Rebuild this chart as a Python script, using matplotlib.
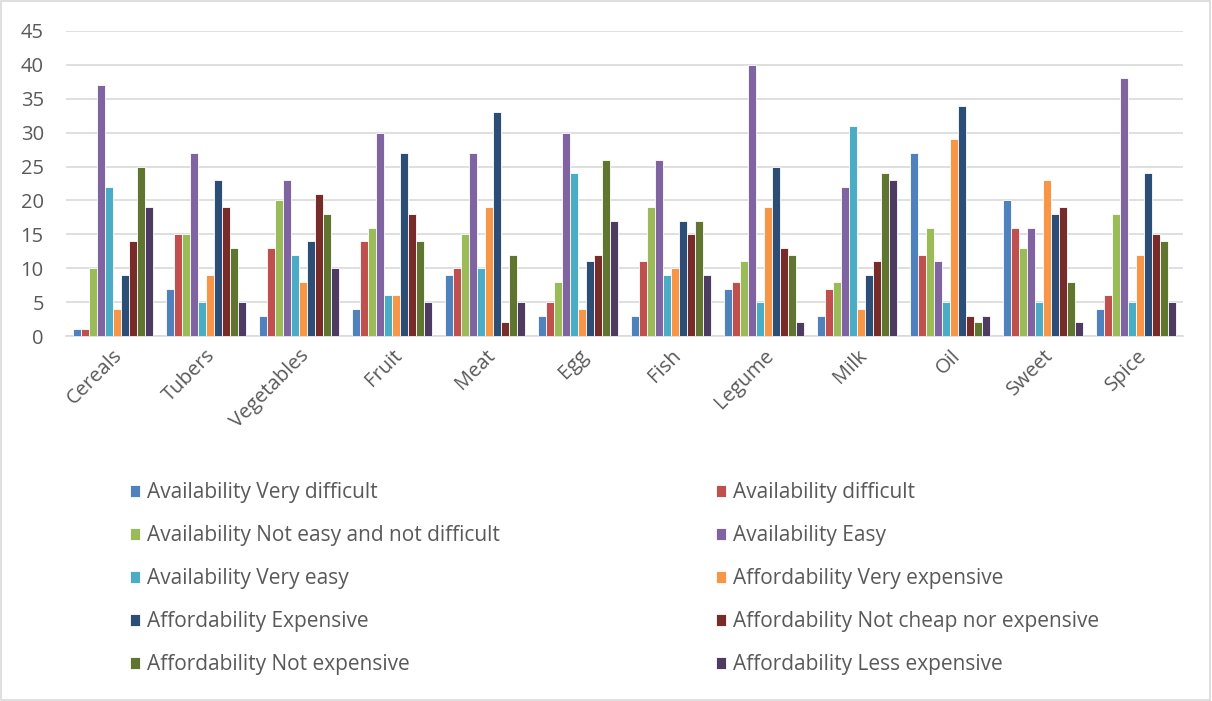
import matplotlib
matplotlib.use("Agg")
import matplotlib.pyplot as plt
import numpy as np
from matplotlib.patches import Rectangle

categories = ["Cereals", "Tubers", "Vegetables", "Fruit", "Meat", "Egg", "Fish",
              "Legume", "Milk", "Oil", "Sweet", "Spice"]

series_names = [
    "Availability Very difficult",
    "Availability difficult",
    "Availability Not easy and not difficult",
    "Availability Easy",
    "Availability Very easy",
    "Affordability Very expensive",
    "Affordability Expensive",
    "Affordability Not cheap nor expensive",
    "Affordability Not expensive",
    "Affordability Less expensive",
]

avail_very_difficult = [1, 7, 3, 4, 9, 3, 3, 7, 3, 27, 20, 4]
avail_difficult = [1, 15, 13, 14, 10, 5, 11, 8, 7, 12, 16, 6]
avail_neither = [10, 15, 20, 16, 15, 8, 19, 11, 8, 16, 13, 18]
avail_easy = [37, 27, 23, 30, 27, 30, 26, 40, 22, 11, 16, 38]
avail_very_easy = [22, 5, 12, 6, 10, 24, 9, 5, 31, 5, 5, 5]
afford_very_exp = [4, 9, 8, 6, 19, 4, 10, 19, 4, 29, 23, 12]
afford_exp = [9, 23, 14, 27, 33, 11, 17, 25, 9, 34, 18, 24]
afford_neither = [14, 19, 21, 18, 2, 12, 15, 13, 11, 3, 19, 15]
afford_not_exp = [25, 13, 18, 14, 12, 26, 17, 12, 24, 2, 8, 14]
afford_less_exp = [19, 5, 10, 5, 5, 17, 9, 2, 23, 3, 2, 5]

series_values = [avail_very_difficult, avail_difficult, avail_neither, avail_easy,
                 avail_very_easy, afford_very_exp, afford_exp, afford_neither,
                 afford_not_exp, afford_less_exp]

colors = ["#4F81BD", "#C0504D", "#9BBB59", "#8064A2", "#4BACC6",
          "#F79646", "#2C4D75", "#772C2A", "#5F7530", "#4D3B62"]

yticks = [0, 5, 10, 15, 20, 25, 30, 35, 40, 45]

plt.rcParams['font.family'] = ['Open Sans', 'DejaVu Sans']
text_color = "#595959"
fs = 14.5

fig = plt.figure(figsize=(12.12, 7.01), dpi=100)
ax = fig.add_axes([66/1212, 1 - 336/701, (1183 - 66)/1212, (336 - 31)/701])

x = np.arange(len(categories))
n = len(series_values)
bw = 0.086
handles = []
for i, (vals, c, name) in enumerate(zip(series_values, colors, series_names)):
    offs = (i - (n - 1) / 2) * bw
    b = ax.bar(x + offs, vals, width=bw, color=c, edgecolor="white",
               linewidth=0.6, label=name, zorder=3)
    handles.append(b)

ax.set_xlim(-0.5, len(categories) - 0.5)
ax.set_ylim(0, 45)
ax.set_yticks(yticks)
ax.yaxis.grid(True, color="#d9d9d9", linewidth=1.2, zorder=0)
ax.set_axisbelow(True)
for s in ["top", "right", "left"]:
    ax.spines[s].set_visible(False)
ax.spines["bottom"].set_color("#d9d9d9")
ax.spines["bottom"].set_linewidth(1.2)
ax.tick_params(axis="both", length=0, colors=text_color, labelsize=fs)
ax.tick_params(axis="y", pad=16)
ax.set_xticks(x)
ax.set_xticklabels(categories, rotation=45, ha="right", va="top",
                   rotation_mode="anchor", fontsize=14.5)
ax.tick_params(axis="x", pad=7)

leg_fs = 15

def make_legend(idx, left_px):
    leg = fig.legend([handles[i] for i in idx], [series_names[i] for i in idx],
                     ncol=1, loc="upper left",
                     bbox_to_anchor=(left_px/1212, 1 - 482/701),
                     frameon=False, fontsize=leg_fs,
                     handlelength=0.5, handleheight=0.52, handletextpad=0.33,
                     labelspacing=1.06, borderaxespad=0, borderpad=0)
    for t in leg.get_texts():
        t.set_color(text_color)
    return leg

make_legend([0, 2, 4, 6, 8], 130)
make_legend([1, 3, 5, 7, 9], 716)

fig.patches.append(Rectangle((0.001, 0.001), 0.997, 0.997, transform=fig.transFigure,
                             fill=False, edgecolor="#d9d9d9", linewidth=1.2))

fig.savefig("out.png", dpi=100)
